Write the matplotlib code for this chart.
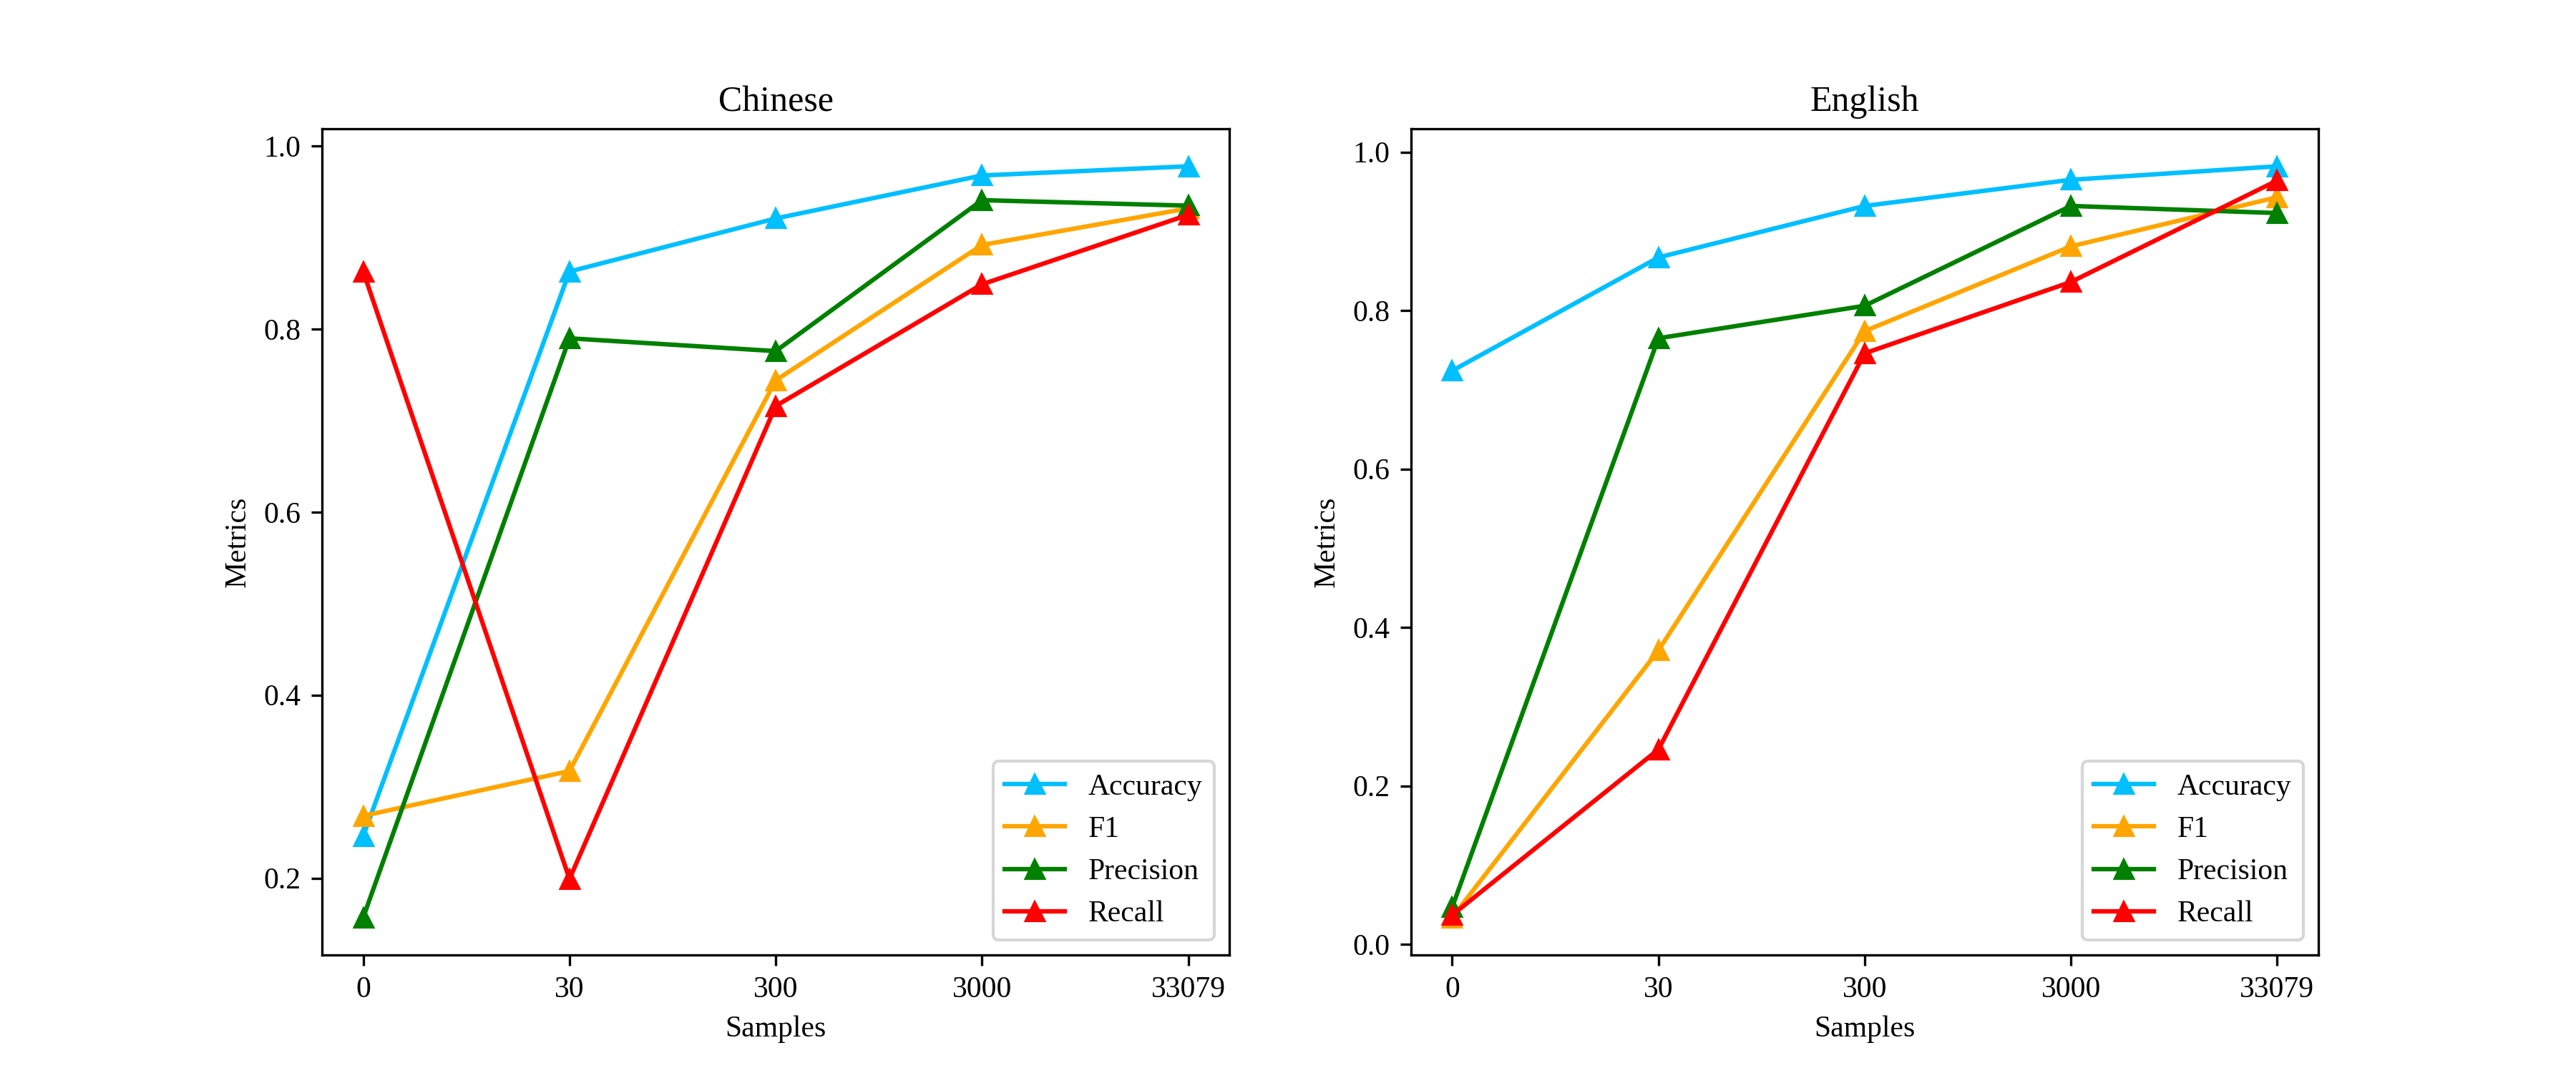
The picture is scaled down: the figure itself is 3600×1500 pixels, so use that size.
import matplotlib
matplotlib.use("Agg")
import matplotlib.pyplot as plt

plt.rcParams['font.family'] = ['Liberation Serif', 'DejaVu Serif']

samples = ['0', '30', '300', '3000', '33079']
metric_names = ['Accuracy', 'F1', 'Precision', 'Recall']
colors = ['deepskyblue', 'orange', 'green', 'red']

zh_accuracy = [0.246, 0.863, 0.921, 0.968, 0.978]
zh_f1 = [0.268, 0.317, 0.744, 0.892, 0.932]
zh_precision = [0.157, 0.790, 0.776, 0.941, 0.935]
zh_recall = [0.863, 0.199, 0.716, 0.849, 0.925]

en_accuracy = [0.724, 0.867, 0.932, 0.965, 0.982]
en_f1 = [0.034, 0.371, 0.774, 0.881, 0.943]
en_precision = [0.047, 0.765, 0.806, 0.932, 0.923]
en_recall = [0.037, 0.246, 0.746, 0.836, 0.964]

panels = [
    ('Chinese', [zh_accuracy, zh_f1, zh_precision, zh_recall]),
    ('English', [en_accuracy, en_f1, en_precision, en_recall]),
]

fig, axes = plt.subplots(1, 2, figsize=(12, 5), dpi=300)
for ax, (title, series) in zip(axes, panels):
    x = list(range(len(samples)))
    for name, vals, c in zip(metric_names, series, colors):
        ax.plot(x, vals, marker='^', color=c, label=name, linewidth=1.5, markersize=6)
    ax.set_xticks(x)
    ax.set_xticklabels(samples)
    ax.set_title(title)
    ax.set_xlabel('Samples')
    ax.set_ylabel('Metrics')
    ax.legend(loc='lower right')

fig.savefig('out.png', dpi=300)
